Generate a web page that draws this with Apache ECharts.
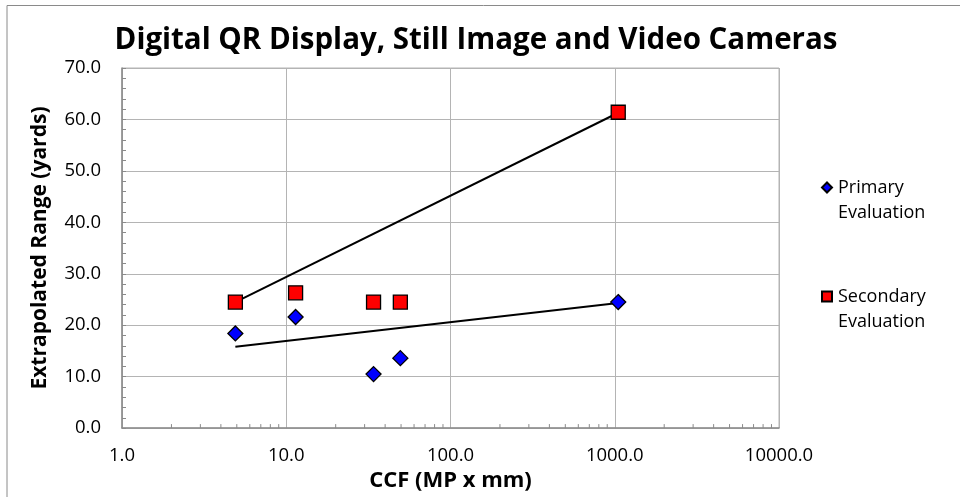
<!DOCTYPE html>
<html><head><meta charset="utf-8">
<script src="https://cdn.jsdelivr.net/npm/echarts@6/dist/echarts.min.js"></script>
<style>html,body{margin:0;padding:0;background:#fff}#c{width:960px;height:497px}</style>
</head><body><div id="c"></div>
<script>
// ---- data ----
const ccf = [4.9, 11.4, 34, 49.5, 1050];
const primaryRange = [18.4, 21.6, 10.5, 13.6, 24.5];
const secondaryRange = [24.5, 26.3, 24.5, 24.5, 61.4];
const primaryTrendX = [4.9, 1050];
const primaryTrendY = [15.8, 24.3];
const secondaryTrendX = [4.9, 1050];
const secondaryTrendY = [24.5, 61.3];
const seriesNames = ['Primary Evaluation', 'Secondary Evaluation'];
const titleText = 'Digital QR Display, Still Image and Video Cameras';
const xTitle = 'CCF (MP x mm)';
const yTitle = 'Extrapolated Range (yards)';

const FONT = 'Open Sans';
const zip = (xs, ys) => xs.map((x, i) => [x, ys[i]]);

// minor tick positions on the log axis (2..9 per decade)
const minorTicks = [];
for (let k = 0; k < 4; k++) for (let m = 2; m <= 9; m++) minorTicks.push([m * Math.pow(10, k), 0]);

const chart = echarts.init(document.getElementById('c'), null, {renderer: 'canvas'});
chart.setOption({
  animation: false,
  backgroundColor: '#fff',
  textStyle: {fontFamily: FONT},
  title: {
    text: titleText, left: 476, top: 26, textAlign: 'center', padding: 0,
    textStyle: {fontFamily: FONT, fontWeight: 'bold', fontSize: 29.5, color: '#000'}
  },
  graphic: [
    {type: 'polyline', shape: {points: [[7, 497], [7, 5.5], [960, 5.5]]},
     style: {stroke: '#8a8a8a', lineWidth: 1, fill: null}, silent: true}
  ],
  legend: {
    orient: 'vertical', left: 816, top: 169, itemGap: 57,
    itemWidth: 10, itemHeight: 50,
    data: [
      {name: seriesNames[0], icon: 'path://M5,0M5,7.5L10,12.5L5,17.5L0,12.5ZM5,50'},
      {name: seriesNames[1], icon: 'path://M5,0M0,7.5H10V17.5H0ZM5,50'}
    ],
    formatter: n => n.replace(' ', '\n'),
    textStyle: {fontFamily: FONT, fontSize: 18, color: '#000', lineHeight: 25, padding: [0, 0, 0, 1]}
  },
  grid: {left: 122, right: 181, top: 68, bottom: 66, show: true, borderColor: '#b4b4b4', borderWidth: 1},
  xAxis: {
    type: 'log', logBase: 10, min: 1, max: 10000,
    name: xTitle, nameLocation: 'middle', nameGap: 36,
    nameTextStyle: {fontFamily: FONT, fontWeight: 'bold', fontSize: 22, color: '#000'},
    axisLine: {show: true, lineStyle: {color: '#8a8a8a', width: 1.5}},
    axisTick: {show: false},
    axisLabel: {formatter: v => v.toFixed(1), fontFamily: FONT, fontSize: 18.5, color: '#000', margin: 18},
    splitLine: {show: true, lineStyle: {color: '#b4b4b4', width: 1}},
    minorTick: {show: false}
  },
  yAxis: {
    type: 'value', min: 0, max: 70, interval: 10,
    name: yTitle, nameLocation: 'middle', nameGap: 71.5,
    nameTextStyle: {fontFamily: FONT, fontWeight: 'bold', fontSize: 21, color: '#000'},
    axisLine: {show: true, lineStyle: {color: '#8a8a8a', width: 1.5}},
    axisTick: {show: true, inside: true, length: 4, lineStyle: {color: '#8a8a8a'}},
    minorTick: {show: true, splitNumber: 5, length: 4, lineStyle: {color: '#8a8a8a'}},
    axisLabel: {formatter: v => v.toFixed(1), fontFamily: FONT, fontSize: 18.5, color: '#000', margin: 21},
    splitLine: {show: true, lineStyle: {color: '#b4b4b4', width: 1}}
  },
  series: [
    {
      type: 'custom', silent: true, data: minorTicks, z: 1,
      renderItem: (params, api) => {
        const p = api.coord([api.value(0), 0]);
        return {type: 'line', shape: {x1: p[0], y1: p[1], x2: p[0], y2: p[1] - 4},
                style: {stroke: '#8a8a8a', lineWidth: 1}};
      }
    },
    {
      name: 'trend1', type: 'line', data: zip(primaryTrendX, primaryTrendY),
      symbol: 'none', lineStyle: {color: '#000', width: 2}, z: 2, silent: true
    },
    {
      name: 'trend2', type: 'line', data: zip(secondaryTrendX, secondaryTrendY),
      symbol: 'none', lineStyle: {color: '#000', width: 2}, z: 2, silent: true
    },
    {
      name: seriesNames[0], type: 'scatter', data: zip(ccf, primaryRange),
      symbol: 'diamond', symbolSize: 15, z: 3,
      itemStyle: {color: '#0000ff', borderColor: '#000', borderWidth: 1.3, opacity: 1}
    },
    {
      name: seriesNames[1], type: 'scatter', data: zip(ccf, secondaryRange),
      symbol: 'rect', symbolSize: 14, z: 3,
      itemStyle: {color: '#ff0000', borderColor: '#000', borderWidth: 1.3, opacity: 1}
    }
  ]
});
</script>
</body></html>
